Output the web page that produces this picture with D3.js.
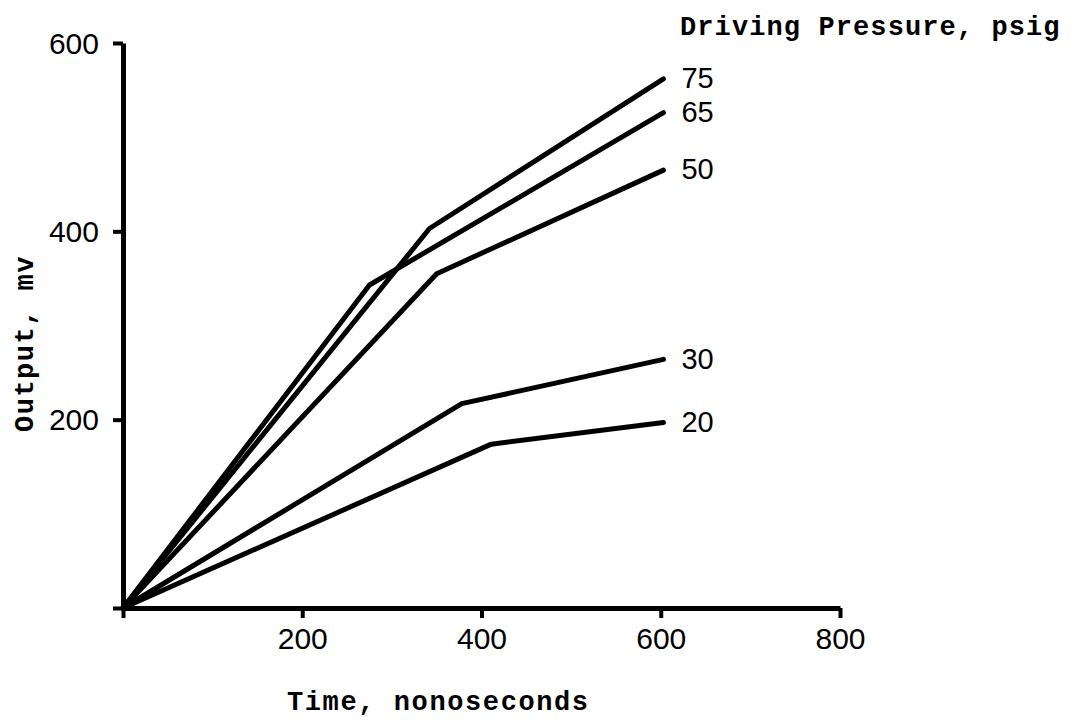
<!DOCTYPE html>
<html>
<head>
<meta charset="utf-8">
<script src="https://cdn.jsdelivr.net/npm/d3@7"></script>
<style>
  html, body { margin: 0; padding: 0; background: #fff; }
  svg { display: block; }
</style>
</head>
<body>
<svg id="chart" width="1084" height="725"></svg>
<script>
// ---- data ----
const seriesLabels = ["75", "65", "50", "30", "20"];      // driving pressure, psig
const time75 = [0, 342, 603];  const out75 = [0, 403, 562];
const time65 = [0, 275, 603];  const out65 = [0, 343, 526];
const time50 = [0, 350, 603];  const out50 = [0, 355, 465];
const time30 = [0, 378, 603];  const out30 = [0, 217, 264];
const time20 = [0, 411, 603];  const out20 = [0, 174, 197];
const xTicks = [0, 200, 400, 600, 800];
const yTicks = [0, 200, 400, 600];
const xTitle = "Time, nonoseconds";
const yTitle = "Output, mv";
const legendTitle = "Driving Pressure, psig";

const times = [time75, time65, time50, time30, time20];
const outs = [out75, out65, out50, out30, out20];
const series = seriesLabels.map((lab, i) => ({
  label: lab,
  points: times[i].map((t, j) => ({ t: t, v: outs[i][j] }))
}));

const svg = d3.select("#chart");
const x = d3.scaleLinear().domain([0, 800]).range([123, 840]);
const y = d3.scaleLinear().domain([0, 600]).range([608, 43]);

const numFont = "'Liberation Sans', Arial, sans-serif";
const monoFont = "'Liberation Mono', 'DejaVu Sans Mono', monospace";

// axes
const xAxis = svg.append("g")
  .attr("transform", `translate(0,${y(0)})`)
  .call(d3.axisBottom(x).tickValues(xTicks).tickSize(10).tickSizeOuter(0).tickPadding(10)
        .tickFormat(d => d === 0 ? "" : d));
const yAxis = svg.append("g")
  .attr("transform", `translate(${x(0)},0)`)
  .call(d3.axisLeft(y).tickValues(yTicks).tickSize(10).tickSizeOuter(0).tickPadding(14)
        .tickFormat(d => d === 0 ? "" : d));

[xAxis, yAxis].forEach(g => {
  g.select(".domain").attr("stroke", "#000").attr("stroke-width", 5);
  g.selectAll(".tick line").attr("stroke", "#000").attr("stroke-width", 4);
  g.selectAll(".tick text")
    .attr("fill", "#000")
    .style("font-family", numFont)
    .style("font-size", "30px");
});
yAxis.selectAll(".tick text").attr("dy", "0.34em");

// lines
const line = d3.line().x(d => x(d.t)).y(d => y(d.v));
svg.append("g").selectAll("path")
  .data(series)
  .join("path")
  .attr("d", d => line(d.points))
  .attr("fill", "none")
  .attr("stroke", "#000")
  .attr("stroke-width", 5)
  .attr("stroke-linejoin", "round")
  .attr("stroke-linecap", "round");

// series labels
svg.append("g").selectAll("text")
  .data(series)
  .join("text")
  .attr("x", d => x(d.points[d.points.length - 1].t) + 18)
  .attr("y", d => y(d.points[d.points.length - 1].v))
  .attr("dy", "0.32em")
  .style("font-family", numFont)
  .style("font-size", "29px")
  .attr("fill", "#000")
  .text(d => d.label);

// titles
svg.append("text")
  .attr("x", 287).attr("y", 710)
  .style("font-family", monoFont).style("font-size", "27px").style("font-weight", "bold")
  .style("letter-spacing", "1.6px")
  .attr("fill", "#000")
  .text(xTitle);

svg.append("text")
  .attr("transform", "translate(33,432) rotate(-90)")
  .style("font-family", monoFont).style("font-size", "27px").style("font-weight", "bold")
  .style("letter-spacing", "1.5px")
  .attr("fill", "#000")
  .text(yTitle);

svg.append("text")
  .attr("x", 680).attr("y", 35)
  .style("font-family", monoFont).style("font-size", "27px").style("font-weight", "bold")
  .style("letter-spacing", "1.1px")
  .attr("fill", "#000")
  .text(legendTitle);
</script>
</body>
</html>
